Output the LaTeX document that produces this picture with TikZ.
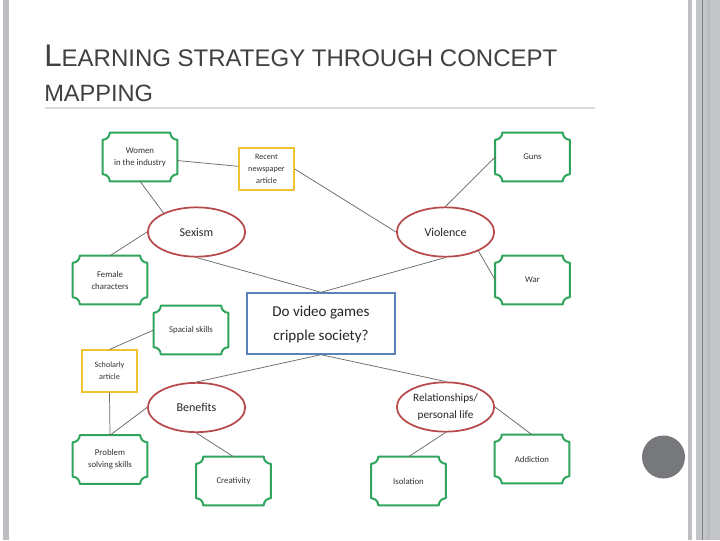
\documentclass[tikz,border=0pt]{standalone}
\usepackage{fontspec}
\setmainfont{Carlito}
\newfontfamily\titlefont{Liberation Sans}
\usetikzlibrary{shapes.geometric,calc}
\definecolor{plgreen}{HTML}{2FA45C}
\definecolor{elred}{HTML}{B8494B}
\definecolor{boxyellow}{HTML}{EDC431}
\definecolor{boxblue}{HTML}{5B83BA}
\definecolor{conn}{HTML}{6A6A6A}
\definecolor{titlegray}{HTML}{404040}
\definecolor{bargray}{HTML}{BDBEC2}
\definecolor{bargrayb}{HTML}{BEBFC2}
\definecolor{bargrayc}{HTML}{C4C5C9}
\definecolor{bargrayd}{HTML}{BBBCC0}
\definecolor{bardark}{HTML}{7E7F83}
\definecolor{seplight}{HTML}{D9D9D9}
\definecolor{dotgray}{HTML}{76787C}
\tikzset{
  x=0.75pt, y=0.75pt,
  leaf/.style={rectangle, minimum width=55.5pt, minimum height=36pt, inner sep=0pt, align=center, font=\fontsize{6.6}{9}\selectfont, text=black!80},
  plaqueline/.style={draw=plgreen, line width=1.5pt, line join=round},
  topic/.style={ellipse, draw=elred, line width=1.3pt, minimum width=73pt, minimum height=37pt, inner sep=0pt, align=center, font=\fontsize{9}{12}\selectfont, text=black!85},
  source/.style={rectangle, draw=boxyellow, line width=1.3pt, minimum width=41pt, minimum height=31pt, inner sep=0pt, align=center, font=\fontsize{6.1}{9}\selectfont, text=black!80},
  mainbox/.style={rectangle, draw=boxblue, line width=1.3pt, minimum width=111pt, minimum height=45.5pt, inner sep=0pt, align=center, font=\fontsize{11.3}{17}\selectfont, text=black!85},
  link/.style={draw=conn, line width=0.55pt}
}
\begin{document}
\begin{tikzpicture}
\useasboundingbox (0,0) rectangle (720,-540);
\fill[white] (0,0) rectangle (720,-540);
% frame decorations
\fill[bargray] (3,0) rectangle (9,-540);
\fill[bargrayb] (688,0) rectangle (692,-540);
\fill[bargrayc] (696,0) rectangle (720,-540);
\fill[bargrayd] (707,0) rectangle (710,-540);
\fill[bardark] (702,0) rectangle (703.2,-540);
\fill[dotgray] (663.5,-457) circle[radius=21.5];
% title
\node[anchor=base west, inner sep=0pt, text=titlegray] (t1) at (44,-66)
  {\titlefont\fontsize{23.5}{23.5}\selectfont L\fontsize{18}{18}\selectfont EARNING STRATEGY THROUGH CONCEPT};
\node[anchor=base west, inner sep=0pt, text=titlegray] (t2) at (44,-101)
  {\titlefont\fontsize{17.7}{17.7}\selectfont MAPPING};
\draw[seplight, line width=0.8pt] (45,-108) -- (595,-108);

% nodes
\node[leaf] (women) at (140,-157) {Women\\in the industry};
\node[source] (news) at (266.5,-169) {Recent\\newspaper\\article};
\node[leaf] (guns) at (532.5,-157) {Guns};
\node[topic] (sex) at (196.5,-232) {Sexism};
\node[topic] (viol) at (445.5,-232) {Violence};
\node[leaf] (fem) at (110,-280) {Female\\characters};
\node[leaf] (war) at (532.5,-280) {War};
\node[mainbox] (main) at (321,-323.5) {\raisebox{-1.5pt}{\begin{tabular}{@{}c@{}}Do video games\\[1pt]cripple society?\end{tabular}}};
\node[leaf] (spac) at (191,-330) {Spacial skills};
\node[source] (schol) at (109.5,-371) {Scholarly\\article};
\node[topic] (ben) at (196.5,-407.5) {Benefits};
\node[topic, font=\fontsize{8.4}{12.5}\selectfont] (rel) at (445.5,-407) {Relationships/\\personal life};
\node[leaf] (prob) at (110,-459.5) {Problem\\solving skills};
\node[leaf] (add) at (532,-459) {Addiction};
\node[leaf] (crea) at (233.5,-481) {Creativity};
\node[leaf] (iso) at (408.5,-481) {Isolation};

% plaque outlines
\foreach \n in {women,guns,fem,war,spac,prob,add,crea,iso}{
  \draw[plaqueline]
    ($(\n.north west)+(7,0)$) -- ($(\n.north east)+(-7,0)$)
    arc[start angle=180, end angle=270, radius=7]
    -- ($(\n.south east)+(0,7)$)
    arc[start angle=90, end angle=180, radius=7]
    -- ($(\n.south west)+(7,0)$)
    arc[start angle=0, end angle=90, radius=7]
    -- ($(\n.north west)+(0,-7)$)
    arc[start angle=270, end angle=360, radius=7]
    -- cycle;
}

% connectors
\draw[link] (women) -- (news);
\draw[link] (news.east) -- (viol.west);
\draw[link] (women.south) -- (sex.150);
\draw[link] (sex.west) -- (fem.north);
\draw[link] (sex.south) -- (main.north);
\draw[link] (viol.south) -- (main.north);
\draw[link] (viol.north) -- (guns.west);
\draw[link] (viol.-30) -- (war.west);
\draw[link] (main.south) -- (ben.north);
\draw[link] (main.south) -- (rel.north);
\draw[link] (spac.west) -- (schol.north);
\draw[link] (schol.south) -- (prob.north);
\draw[link] (ben.west) -- (prob.north);
\draw[link] (ben.south) -- (crea.north);
\draw[link] (rel.south) -- (iso.north);
\draw[link] (rel.east) -- (add.north);
\end{tikzpicture}
\end{document}
